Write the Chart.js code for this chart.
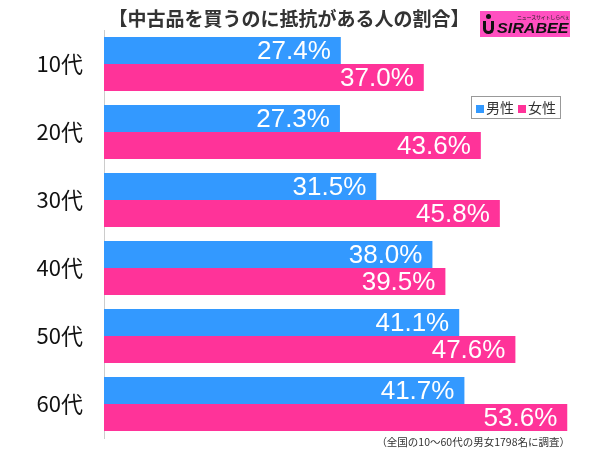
<!DOCTYPE html>
<html><head><meta charset="utf-8">
<script src="https://cdn.jsdelivr.net/npm/chart.js@4/dist/chart.umd.min.js"></script>
<style>
html,body{margin:0;padding:0;background:#fff;}
#wrap{position:relative;width:600px;height:449px;font-family:"Noto Sans CJK JP","Noto Sans",sans-serif;}
#c{position:absolute;left:0;top:0;}
#title{position:absolute;left:90px;top:4px;width:398px;text-align:center;font-weight:bold;font-size:19px;color:#333;}
#logo{position:absolute;left:480px;top:11px;width:90px;height:26px;background:#ff4fc0;overflow:hidden;}
#logo .s{position:absolute;left:37px;top:3px;font-size:5px;line-height:6px;color:#222;letter-spacing:-0.2px;}
#logo .b{position:absolute;left:17px;top:9px;font-family:"Liberation Sans",sans-serif;font-weight:bold;font-style:italic;font-size:14px;line-height:16px;color:#111;transform:scaleX(1.15);transform-origin:left;}
#logo .dot{position:absolute;left:6px;top:3px;width:5px;height:5px;border-radius:50%;background:#111;}
#logo .stem{position:absolute;left:3px;top:10px;width:11px;height:13px;border:3px solid #111;border-top:none;border-radius:0 0 7px 7px;box-sizing:border-box;}
#legend{position:absolute;left:471px;top:96px;width:88px;height:21px;border:1px solid #999;font-size:14px;color:#333;line-height:21px;white-space:nowrap;}
#legend span.sq{display:inline-block;width:8px;height:8px;margin:0 2px 0 4px;vertical-align:0px;}
#foot{position:absolute;right:30px;top:434px;font-size:10.5px;color:#333;}
</style></head>
<body><div id="wrap">
<canvas id="c" width="600" height="449"></canvas>
<div id="title">【中古品を買うのに抵抗がある人の割合】</div>
<div id="logo"><span class="dot"></span><span class="stem"></span><span class="s">ニュースサイトしらべぇ</span><span class="b">SIRABEE</span></div>
<div id="legend"><span class="sq" style="background:#3399ff"></span>男性<span class="sq" style="background:#ff3399"></span>女性</div>
<div id="foot">（全国の10～60代の男女1798名に調査）</div>
</div>
<script>
const categories = ["10代","20代","30代","40代","50代","60代"];
const male = [27.4, 27.3, 31.5, 38.0, 41.1, 41.7];
const female = [37.0, 43.6, 45.8, 39.5, 47.6, 53.6];
const seriesNames = ["男性","女性"];

const labelPlugin = {
  id:'vals',
  afterDatasetsDraw(chart){
    const ctx = chart.ctx;
    ctx.save();
    ctx.fillStyle = '#fff';
    ctx.font = '26px "Liberation Sans", "Noto Sans", sans-serif';
    ctx.textAlign = 'right';
    ctx.textBaseline = 'middle';
    chart.data.datasets.forEach((ds,i)=>{
      chart.getDatasetMeta(i).data.forEach((el,j)=>{
        ctx.fillText(ds.data[j].toFixed(1)+'%', el.x-10, el.y+1);
      });
    });
    ctx.restore();
  }
};

new Chart(document.getElementById('c'), {
  type:'bar',
  data:{
    labels:categories,
    datasets:[
      {label:seriesNames[0], data:male, backgroundColor:'#3399ff', categoryPercentage:0.794, barPercentage:1.0},
      {label:seriesNames[1], data:female, backgroundColor:'#ff3399', categoryPercentage:0.794, barPercentage:1.0}
    ]
  },
  options:{
    indexAxis:'y',
    responsive:false,
    animation:false,
    layout:{padding:{left:0,right:12,top:30,bottom:11}},
    plugins:{legend:{display:false},tooltip:{enabled:false}},
    scales:{
      x:{display:false,min:0,max:56},
      y:{
        afterFit(s){ s.width = 104; s.paddingTop = 0; s.paddingBottom = 0; },
        grid:{display:false, drawTicks:false},
        border:{display:true,color:'#ccc',width:1},
        ticks:{color:'#111',padding:21,font:{size:22,family:'"Noto Sans CJK JP", "Noto Sans", sans-serif'}}
      }
    }
  },
  plugins:[labelPlugin]
});
</script>
</body></html>
